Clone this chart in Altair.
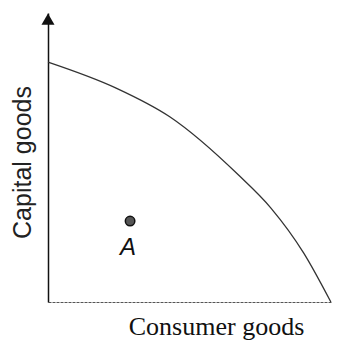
import altair as alt
import pandas as pd

consumer = [0, 24, 43, 67, 78.5, 90, 99.6]
capital = [83, 74, 64, 44, 32.5, 17, 0]
point_x = [28.9]
point_y = [28.0]
point_label = ["A"]
x_title = "Consumer goods"
y_title = "Capital goods"

curve = pd.DataFrame({"consumer": consumer, "capital": capital})
pt = pd.DataFrame({"consumer": point_x, "capital": point_y, "label": point_label})
arrow = pd.DataFrame({"consumer": [0], "capital": [97.9]})

xs = alt.Scale(domain=[0, 100], nice=False, zero=False)
ys = alt.Scale(domain=[0, 100], nice=False, zero=False)

xax = alt.Axis(ticks=False, labels=False, grid=False, domainColor="#555",
               domainWidth=1, domainDash=[3, 1],
               title=x_title, titleFont="Liberation Serif", titleFontSize=26,
               titleFontWeight="normal", titleColor="#111",
               titleX=168, titleY=32, titleAlign="center", titleBaseline="alphabetic")
yax = alt.Axis(ticks=False, labels=False, grid=False, domainColor="#111",
               domainWidth=1.5,
               title=y_title, titleFont="Liberation Sans", titleFontSize=25,
               titleFontWeight="normal", titleColor="#222",
               titleX=-18, titleY=149, titleAlign="center", titleBaseline="alphabetic",
               titleAngle=270)

line = alt.Chart(curve).mark_line(color="#333", strokeWidth=1.3, interpolate="monotone").encode(
    x=alt.X("consumer:Q", scale=xs, axis=xax),
    y=alt.Y("capital:Q", scale=ys, axis=yax),
)

dot = alt.Chart(pt).mark_point(filled=True, size=90, color="#555", stroke="#111",
                               strokeWidth=1.5, opacity=1).encode(
    x=alt.X("consumer:Q", scale=xs),
    y=alt.Y("capital:Q", scale=ys),
)

lab = alt.Chart(pt).mark_text(font="Liberation Sans", fontSize=24, fontStyle="italic",
                              baseline="alphabetic", align="center", dy=34, dx=-2,
                              color="#111").encode(
    x=alt.X("consumer:Q", scale=xs),
    y=alt.Y("capital:Q", scale=ys),
    text="label:N",
)

tri = alt.Chart(arrow).mark_point(shape="triangle-up", filled=True, size=170,
                                  color="#111", opacity=1).encode(
    x=alt.X("consumer:Q", scale=xs),
    y=alt.Y("capital:Q", scale=ys),
)

chart = alt.layer(line, dot, lab, tri).properties(
    width=284, height=289,
    autosize=alt.AutoSizeParams(type="none"),
    padding={"left": 40, "top": 5, "right": 0, "bottom": 39},
).configure_view(stroke=None)

chart.save("out.html", embed_options={"renderer": "svg", "actions": False})
